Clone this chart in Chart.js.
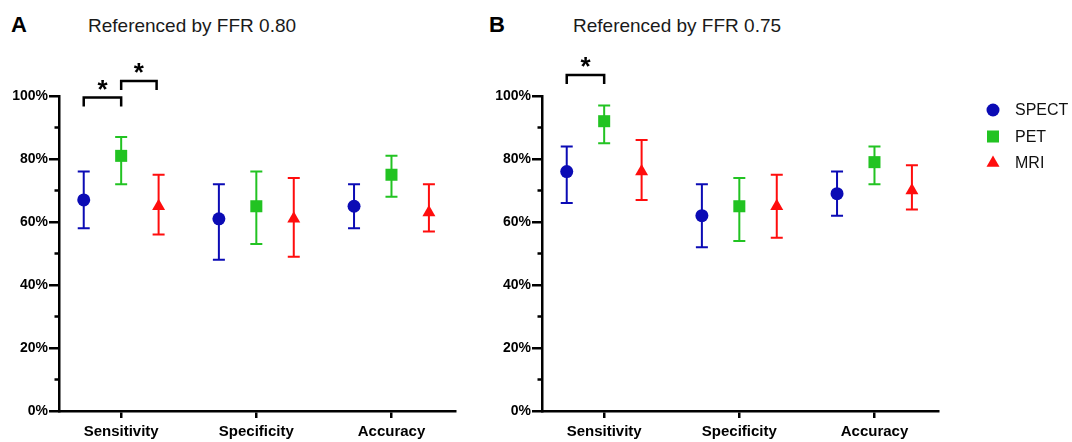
<!DOCTYPE html>
<html>
<head>
<meta charset="utf-8">
<script src="https://cdn.jsdelivr.net/npm/chart.js@4.4.1/dist/chart.umd.min.js"></script>
<style>
  body { margin: 0; background: #fff; width: 1072px; height: 442px; position: relative; overflow: hidden;
         font-family: Arial, "Liberation Sans", sans-serif; }
  .panel { position: absolute; top: 0; height: 442px; }
  #wrapA { left: 0; width: 480px; }
  #wrapB { left: 480px; width: 592px; }
  .letter { position: absolute; top: 14px; font-size: 22px; font-weight: bold; line-height: 1; color: #000; }
  .title { position: absolute; top: 16px; font-size: 19px; line-height: 1; color: #1a1a1a; }
</style>
</head>
<body>
<div class="letter" style="left:11px">A</div>
<div class="title" style="left:88px">Referenced by FFR 0.80</div>
<div class="letter" style="left:489px">B</div>
<div class="title" style="left:573px">Referenced by FFR 0.75</div>
<div class="panel" id="wrapA"><canvas id="chartA" width="480" height="442"></canvas></div>
<div class="panel" id="wrapB"><canvas id="chartB" width="592" height="442"></canvas></div>
<script>
// Categories and axis ticks
const categories = ['Sensitivity', 'Specificity', 'Accuracy'];
const minorTicks = [10, 30, 50, 70, 90];

// Panel A - referenced by FFR 0.80 (value, lower, upper in %)
const spectA = [67, 61, 65];
const spectLowA = [58, 48, 58];
const spectHighA = [76, 72, 72];
const petA = [81, 65, 75];
const petLowA = [72, 53, 68];
const petHighA = [87, 76, 81];
const mriA = [65, 61, 63];
const mriLowA = [56, 49, 57];
const mriHighA = [75, 74, 72];

// Panel B - referenced by FFR 0.75
const spectB = [76, 62, 69];
const spectLowB = [66, 52, 62];
const spectHighB = [84, 72, 76];
const petB = [92, 65, 79];
const petLowB = [85, 54, 72];
const petHighB = [97, 74, 84];
const mriB = [76, 65, 70];
const mriLowB = [67, 55, 64];
const mriHighB = [86, 75, 78];

// Significant pairs (within Sensitivity)
const sigPairsA = [['SPECT', 'PET'], ['PET', 'MRI']];
const sigPairsB = [['SPECT', 'PET']];

const FONT = 'Arial, "Liberation Sans", sans-serif';

const seriesStyle = {
    SPECT: { color: '#0b0bb5', pointStyle: 'circle', radius: 6.5, offset: -0.277 },
    PET: { color: '#22c322', pointStyle: 'rect', radius: 8.5, offset: 0 },
    MRI: { color: '#ff0d0d', pointStyle: 'triangle', radius: 7.5, offset: 0.277 }
};

function makeDataset(name, values, lows, highs) {
    const s = seriesStyle[name];
    return {
        label: name,
        data: values.map((v, i) => ({ x: i + 1 + s.offset, y: v })),
        lows: lows,
        highs: highs,
        backgroundColor: s.color,
        borderColor: s.color,
        borderWidth: 0,
        pointStyle: s.pointStyle,
        pointRadius: s.radius,
        pointHoverRadius: s.radius
    };
}

// Error bars with caps, drawn under the markers
const errorBars = {
    id: 'errorBars',
    beforeDatasetsDraw(chart) {
        const { ctx, scales: { x, y } } = chart;
        ctx.save();
        ctx.lineWidth = 2;
        chart.data.datasets.forEach(ds => {
            ctx.strokeStyle = ds.borderColor;
            ds.data.forEach((pt, i) => {
                const px = x.getPixelForValue(pt.x);
                const top = y.getPixelForValue(ds.highs[i]);
                const bot = y.getPixelForValue(ds.lows[i]);
                ctx.beginPath();
                ctx.moveTo(px, top); ctx.lineTo(px, bot);
                ctx.moveTo(px - 6, top); ctx.lineTo(px + 6, top);
                ctx.moveTo(px - 6, bot); ctx.lineTo(px + 6, bot);
                ctx.stroke();
            });
        });
        ctx.restore();
    }
};

// Minor ticks, significance brackets and the legend
const decor = {
    id: 'decor',
    afterDraw(chart, args, opts) {
        const { ctx, chartArea, scales: { x, y } } = chart;
        ctx.save();
        ctx.strokeStyle = '#000';
        ctx.fillStyle = '#000';
        ctx.lineWidth = 2.5;

        minorTicks.forEach(v => {
            const py = y.getPixelForValue(v);
            ctx.beginPath();
            ctx.moveTo(chartArea.left - 4.5, py);
            ctx.lineTo(chartArea.left, py);
            ctx.stroke();
        });

        (opts.pairs || []).forEach((pair, k) => {
            const [d1, d2] = pair.map(n => chart.data.datasets.find(d => d.label === n));
            const x1 = x.getPixelForValue(d1.data[0].x);
            const x2 = x.getPixelForValue(d2.data[0].x) - (k > 0 ? 2 : 0);
            const by = y.getPixelForValue(opts.levels[k]);
            ctx.beginPath();
            ctx.moveTo(x1, by + 9);
            ctx.lineTo(x1, by);
            ctx.lineTo(x2, by);
            ctx.lineTo(x2, by + 9);
            ctx.stroke();
            ctx.font = 'bold 26px ' + FONT;
            ctx.textAlign = 'center';
            ctx.textBaseline = 'alphabetic';
            const m = ctx.measureText('*');
            const mid = (m.actualBoundingBoxAscent - m.actualBoundingBoxDescent) / 2;
            ctx.fillText('*', (x1 + x2) / 2, by - 13 + mid);
        });

        if (opts.legend) {
            chart.data.datasets.forEach((ds, i) => {
                const lx = chartArea.right + 55;
                const ly = chartArea.top + 14 + i * 26.5;
                ctx.fillStyle = ds.backgroundColor;
                Chart.helpers.drawPoint(ctx, {
                    pointStyle: ds.pointStyle, radius: ds.pointRadius, borderWidth: 0, rotation: 0
                }, lx, ly);
                ctx.fillStyle = '#111';
                ctx.font = '16px ' + FONT;
                ctx.textAlign = 'left';
                ctx.textBaseline = 'middle';
                ctx.fillText(ds.label, lx + 22, ly + 1);
            });
        }
        ctx.restore();
    }
};

function makeChart(id, datasets, pairs, levels, showLegend, axisWidth, padRight) {
    return new Chart(document.getElementById(id), {
        type: 'scatter',
        data: { datasets: datasets },
        options: {
            responsive: false,
            animation: false,
            events: [],
            layout: { padding: { top: 96, right: padRight, left: 0, bottom: 0 } },
            plugins: {
                legend: { display: false },
                tooltip: { enabled: false },
                decor: { pairs: pairs, levels: levels, legend: showLegend }
            },
            scales: {
                x: {
                    type: 'linear',
                    min: 0.54,
                    max: 3.47,
                    afterBuildTicks: s => { s.ticks = categories.map((c, i) => ({ value: i + 1 })); },
                    afterFit: s => { s.height = 31; },
                    ticks: {
                        callback: v => categories[Math.round(v) - 1],
                        font: { family: FONT, size: 15, weight: 'bold' },
                        color: '#000',
                        padding: 5,
                        maxRotation: 0,
                        autoSkip: false
                    },
                    grid: { drawOnChartArea: false, tickLength: 7, color: '#000', lineWidth: 2.5 },
                    border: { color: '#000', width: 2.5 }
                },
                y: {
                    min: 0,
                    max: 100,
                    afterFit: s => { s.width = axisWidth; },
                    ticks: {
                        stepSize: 20,
                        callback: v => v + '%',
                        font: { family: FONT, size: 14, weight: 'bold' },
                        color: '#000',
                        padding: 1
                    },
                    grid: { drawOnChartArea: false, tickLength: 10, color: '#000', lineWidth: 2.5 },
                    border: { color: '#000', width: 2.5 }
                }
            }
        },
        plugins: [errorBars, decor]
    });
}

makeChart('chartA', [
    makeDataset('SPECT', spectA, spectLowA, spectHighA),
    makeDataset('PET', petA, petLowA, petHighA),
    makeDataset('MRI', mriA, mriLowA, mriHighA)
], sigPairsA, [99.5, 104.8], false, 59, 25);

makeChart('chartB', [
    makeDataset('SPECT', spectB, spectLowB, spectHighB),
    makeDataset('PET', petB, petLowB, petHighB),
    makeDataset('MRI', mriB, mriLowB, mriHighB)
], sigPairsB, [106.7], true, 62, 134);
</script>
</body>
</html>
